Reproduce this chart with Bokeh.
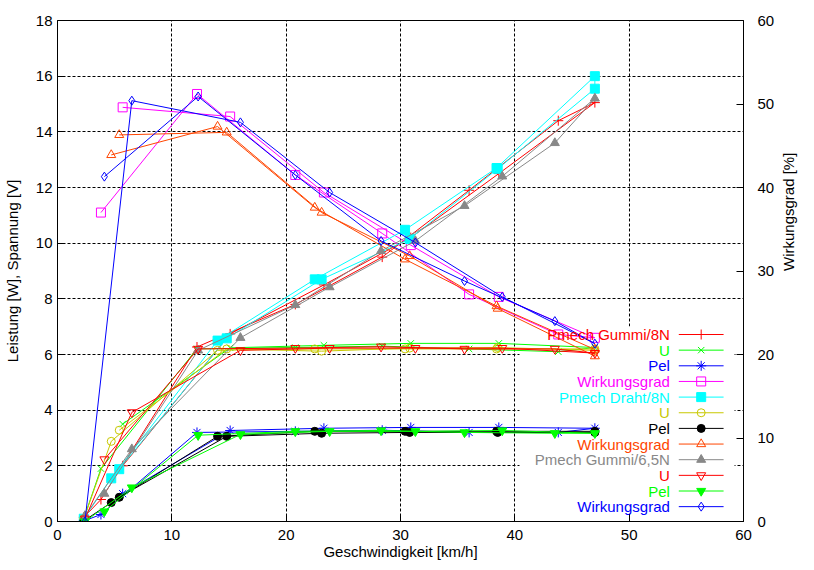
import math
import numpy as np
from bokeh.plotting import figure
from bokeh.models import Range1d, LinearAxis, FixedTicker, BoxAnnotation, ColumnDataSource
from bokeh.core.properties import value
from bokeh.embed import file_html
from bokeh.resources import INLINE

nan = float("nan")

# ---------------- data ----------------
# Messreihe 1: Gummi, 8 N  (hin und zurueck)
v1 = [2.3, 3.8, 12.2, 20.8, 28.4, 36.0, 43.8, 47.0, 38.6, 30.9, 23.3, 15.1, 5.7]
pmech1 = [0.15, 0.79, 6.27, 7.80, 9.50, 11.90, 14.40, 15.05, 12.50, 10.20, 8.50, 6.74, 2.00]
u1 = [0.10, 1.90, 6.20, 6.25, 6.30, 6.20, 6.10, 6.25, 6.40, 6.40, 6.33, 6.24, 3.50]
pel1 = [0.02, 0.25, 3.20, 3.24, 3.28, 3.20, 3.20, 3.35, 3.38, 3.38, 3.35, 3.27, 1.00]
wg1 = [nan, 37.0, 51.2, 41.5, 34.5, 27.2, 22.4, 22.0, 26.9, 33.1, 39.4, 48.5, 49.6]

# Messreihe 2: Draht, 8 N
v2 = [2.3, 4.7, 14.0, 22.5, 30.4, 38.4, 47.0, 47.0, 38.5, 30.8, 23.1, 14.8, 5.4]
pmech2 = [0.10, 1.55, 6.50, 8.70, 10.48, 12.70, 16.00, 15.55, 12.67, 10.15, 8.70, 6.58, 1.88]
u2 = [0.10, 2.88, 6.15, 6.20, 6.20, 6.20, 6.20, 6.15, 6.25, 6.23, 6.12, 6.20, 3.28]
pel2 = [0.02, 0.68, 3.06, 3.24, 3.24, 3.24, 3.24, 3.20, 3.20, 3.20, 3.17, 3.06, 0.87]
wg2 = [nan, 43.9, 47.3, 37.6, 31.4, 25.8, 20.6, 19.8, 25.5, 31.8, 37.0, 46.6, 46.3]

# Messreihe 3: Gummi, 6,5 N
v3 = [2.4, 6.5, 16.0, 23.8, 31.3, 38.9, 47.0, 43.5, 35.6, 28.3, 20.8, 12.3, 4.1]
pmech3 = [0.20, 2.60, 6.60, 8.42, 10.08, 12.40, 15.20, 13.60, 11.34, 9.72, 7.78, 6.15, 1.00]
u3 = [0.10, 3.92, 6.15, 6.23, 6.23, 6.23, 6.05, 6.20, 6.20, 6.28, 6.23, 6.20, 2.23]
pel3 = [0.00, 1.22, 3.13, 3.24, 3.24, 3.27, 3.17, 3.17, 3.20, 3.27, 3.24, 3.10, 0.36]
wg3 = [0.0, 50.4, 47.8, 39.4, 33.4, 26.9, 21.3, 24.0, 28.8, 33.6, 41.5, 50.9, 41.3]

labels = ["Pmech Gummi/8N", "U", "Pel", "Wirkungsgrad",
          "Pmech Draht/8N", "U", "Pel", "Wirkungsgrad",
          "Pmech Gummi/6,5N", "U", "Pel", "Wirkungsgrad"]

x_ticks = [0, 10, 20, 30, 40, 50, 60]
y_ticks = [0, 2, 4, 6, 8, 10, 12, 14, 16, 18]
y2_ticks = [0, 10, 20, 30, 40, 50, 60]

x_title = "Geschwindigkeit [km/h]"
y_title = "Leistung [W], Spannung [V]"
y2_title = "Wirkungsgrad [%]"

# ---------------- styles ----------------
FONT = "Liberation Sans"
FS = "15px"
colors = ["#ff0000", "#00ff00", "#0000ff", "#ff00ff",
          "#00ffff", "#c8c800", "#000000", "#ff4500",
          "#888888", "#ff0000", "#00ff00", "#0000ff"]
markers = ["cross", "x", "asterisk", "square",
           "square", "circle", "circle", "triangle",
           "triangle", "inverted_triangle", "inverted_triangle", "diamond"]
filled = [False, False, False, False,
          True, False, True, False,
          True, False, True, False]
msize = [10, 9, 10, 9, 9, 8, 8, 9, 9, 9, 9, 9]

series = [(v1, pmech1, False), (v1, u1, False), (v1, pel1, False), (v1, wg1, True),
          (v2, pmech2, False), (v2, u2, False), (v2, pel2, False), (v2, wg2, True),
          (v3, pmech3, False), (v3, u3, False), (v3, pel3, False), (v3, wg3, True)]

# frame placement (pixels)
W, H = 812, 566
FL, FR, FT, FB = 54, 743, 20, 521

p = figure(width=W, height=H, output_backend="svg", toolbar_location=None,
           x_range=Range1d(0, 60), y_range=Range1d(0, 18),
           min_border_left=FL, min_border_right=W - FR,
           min_border_top=FT, min_border_bottom=H - FB)
p.extra_y_ranges = {"y2": Range1d(0, 60)}
p.background_fill_color = "white"
p.border_fill_color = "white"
p.outline_line_color = "black"
p.outline_line_width = 1

xpx = (FR - FL) / 60.0
ypx = (FB - FT) / 18.0

def dx(px):   # screen px -> data x
    return (px - FL) / xpx

def dy(py):   # screen px -> data y (left axis)
    return (FB - py) / ypx

def style_axis(ax):
    ax.axis_line_color = "black"
    ax.major_tick_line_color = "black"
    ax.major_tick_in = 7
    ax.major_tick_out = 0
    ax.minor_tick_in = 0
    ax.minor_tick_out = 0
    ax.major_label_text_font = FONT
    ax.major_label_text_font_size = FS
    ax.major_label_text_color = "black"
    ax.axis_label_text_font = FONT
    ax.axis_label_text_font_size = FS
    ax.axis_label_text_font_style = "normal"
    ax.axis_label_text_color = "black"

style_axis(p.xaxis[0])
style_axis(p.yaxis[0])
p.xaxis.ticker = FixedTicker(ticks=x_ticks)
p.yaxis.ticker = FixedTicker(ticks=y_ticks)
p.xaxis.major_label_standoff = 8
p.yaxis.major_label_standoff = 5
p.xaxis.axis_label = x_title
p.xaxis.axis_label_standoff = 0
p.yaxis.axis_label = y_title
p.yaxis.axis_label_standoff = 12

ax2 = LinearAxis(y_range_name="y2", ticker=FixedTicker(ticks=y2_ticks))
style_axis(ax2)
ax2.major_label_standoff = 14
ax2.axis_label = y2_title
ax2.axis_label_standoff = 11
if "axis_label_orientation" in ax2.properties():
    ax2.axis_label_orientation = math.pi / 2
p.add_layout(ax2, "right")

p.xgrid.ticker = FixedTicker(ticks=x_ticks[1:-1])
p.ygrid.ticker = FixedTicker(ticks=y_ticks[1:-1])
for g in (p.xgrid[0], p.ygrid[0]):
    g.grid_line_color = "black"
    g.grid_line_dash = "3 2"
    g.grid_line_width = 1

# key area hides the grid (curves stay visible)
p.add_layout(BoxAnnotation(left=dx(518), right=dx(734), bottom=dy(513), top=dy(326),
                           fill_color="white", fill_alpha=1.0, line_alpha=0.0,
                           level="underlay"))

for i, (xs, ys, right) in enumerate(series):
    kw = {"y_range_name": "y2"} if right else {}
    src = ColumnDataSource(dict(x=np.array(xs, dtype=float), y=np.array(ys, dtype=float)))
    p.line("x", "y", source=src, line_color=colors[i], line_width=1, **kw)
    p.scatter("x", "y", source=src, marker=markers[i], size=msize[i],
              line_color=colors[i], line_width=1,
              fill_color=colors[i] if filled[i] else None, **kw)

# key (text right-aligned, then sample)
key_y0 = 334.0
key_dy = 15.65
for i, lab in enumerate(labels):
    yy = dy(key_y0 + i * key_dy)
    p.text(x=[dx(669)], y=[yy], text=[lab], text_align="right", text_baseline="middle",
           text_font=value(FONT), text_font_size=value(FS), text_color=colors[i])
    p.line(x=[dx(678), dx(723)], y=[yy, yy], line_color=colors[i], line_width=1)
    p.scatter(x=[dx(700.5)], y=[yy], marker=markers[i], size=msize[i],
              line_color=colors[i], line_width=1,
              fill_color=colors[i] if filled[i] else None)

open("out.html", "w").write(file_html(p, INLINE))
